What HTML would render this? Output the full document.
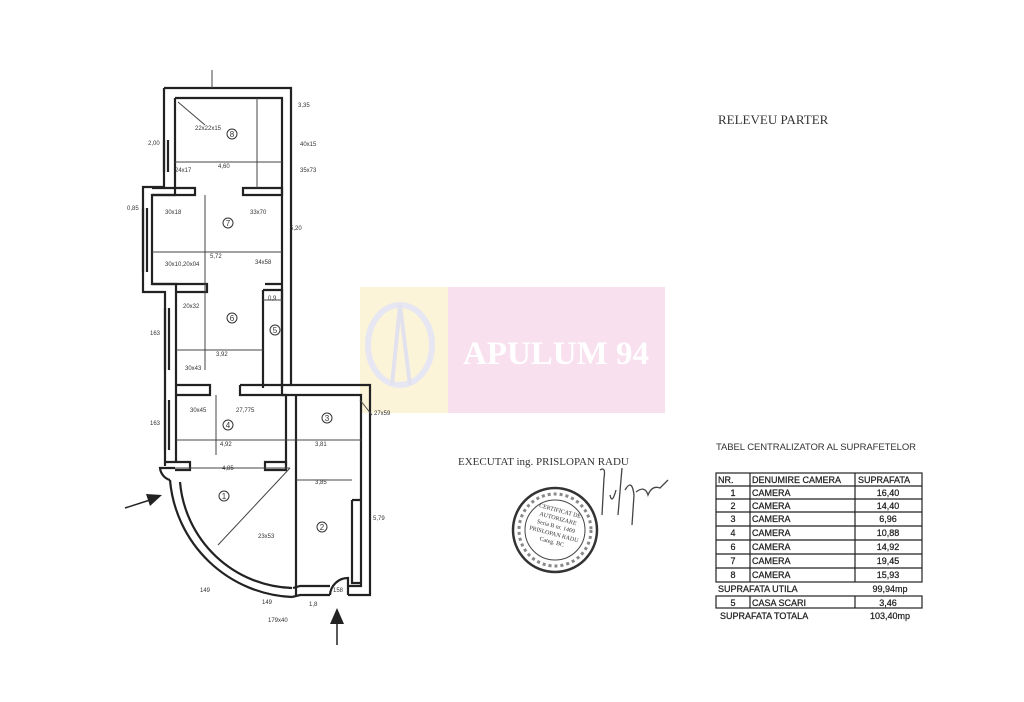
<!DOCTYPE html>
<html><head><meta charset="utf-8"><style>
html,body{margin:0;padding:0;background:#fff;width:1024px;height:702px;overflow:hidden}
svg{display:block}
</style></head><body>
<svg width="1024" height="702" viewBox="0 0 1024 702" xmlns="http://www.w3.org/2000/svg">
<rect width="1024" height="702" fill="#fff"/>
<!-- watermark -->
<rect x="360" y="287" width="88" height="126" fill="#fbf4d8"/>
<rect x="448" y="287" width="217" height="126" fill="#f8e0ef"/>
<ellipse cx="400" cy="345" rx="32" ry="40" fill="none" stroke="#e6e7f2" stroke-width="6"/>
<path d="M400 305 L392 385 M400 305 L410 385" stroke="#e2e2ee" stroke-width="4"/>
<text x="556" y="364" font-family="Liberation Serif,serif" font-weight="bold" font-size="33" fill="#fff" text-anchor="middle">APULUM 94</text>

<g fill="none" stroke="#222" stroke-width="2.2">
<path d="M164 88 H291 V385 H370 V595 H348 M330 595 H300 L292 597"/>
<path d="M164 88 V187 H143 V292 H165 V466"/>
<path d="M175 98 H282 V395 H361 V586 H348 M330 586 H300 L293 588"/>
<path d="M175 98 V195 H152 V284 H176 V462"/>
<path d="M170 480 A128 128 0 0 0 292 597"/>
<path d="M180 482 A116 116 0 0 0 292 588"/>
<path d="M152 188 H195 V195 H152"/>
<path d="M243 188 H282 V195 H243 Z"/>
<path d="M152 284 H207 V292 H176"/>
<path d="M265 284 H282"/>
<path d="M263 290 H282 V388 M263 290 V388"/>
<path d="M176 385 H210 V395 H176"/>
<path d="M240 385 H291 M240 385 V395 H286"/>
<path d="M286 395 V465 M296 395 V595"/>
<path d="M165 462 H190 V470 H175"/>
<path d="M265 462 H286 V470 H265 Z"/>
<path d="M352 500 V583 H361 M352 500 H361"/>
<path d="M330 595 A18 18 0 0 1 348 578 V595"/>
<path d="M170 480 A14 14 0 0 1 160 468 H175"/>
<path d="M164 140 V172 M168 140 V172"/>
<path d="M143 208 V272 M147 208 V272"/>
<path d="M165 308 V370 M169 308 V370"/>
<path d="M165 400 V450 M169 400 V450"/>
</g>
<g stroke="#444" stroke-width="1">
<line x1="175" y1="162" x2="282" y2="162"/>
<line x1="257" y1="98" x2="257" y2="188"/>
<line x1="152" y1="252" x2="282" y2="252"/>
<line x1="205" y1="195" x2="205" y2="370"/>
<line x1="176" y1="350" x2="263" y2="350"/>
<line x1="263" y1="300" x2="282" y2="300"/>
<line x1="176" y1="440" x2="361" y2="440"/>
<line x1="216" y1="395" x2="216" y2="455"/>
<line x1="175" y1="468" x2="290" y2="468"/>
<line x1="296" y1="480" x2="352" y2="480"/>
<line x1="290" y1="468" x2="218" y2="545"/>
<line x1="212" y1="70" x2="212" y2="88"/>
<line x1="178" y1="102" x2="205" y2="125"/>
<line x1="372" y1="415" x2="360" y2="400"/>
</g>
<g font-family="Liberation Sans,sans-serif" font-size="6" fill="#333">
<text x="195" y="130">22x22x15</text><text x="175" y="172">24x17</text>
<text x="218" y="168">4,60</text><text x="298" y="107">3,35</text>
<text x="300" y="146">40x15</text><text x="300" y="172">35x73</text>
<text x="165" y="214">30x18</text><text x="250" y="214">33x70</text>
<text x="210" y="258">5,72</text><text x="165" y="266">30x10,20x04</text>
<text x="255" y="264">34x58</text><text x="290" y="230">5,20</text>
<text x="183" y="308">20x32</text><text x="268" y="300">0,9</text>
<text x="216" y="356">3,92</text><text x="185" y="370">30x43</text>
<text x="190" y="412">30x45</text><text x="236" y="412">27,775</text>
<text x="220" y="446">4,92</text><text x="315" y="446">3,81</text>
<text x="222" y="470">4,85</text><text x="315" y="484">3,85</text>
<text x="258" y="538">23x53</text><text x="374" y="415">27x59</text>
<text x="373" y="520">5,79</text><text x="148" y="145">2,00</text>
<text x="127" y="210">0,85</text><text x="150" y="335">163</text>
<text x="150" y="425">163</text><text x="200" y="592">149</text>
<text x="262" y="604">149</text><text x="309" y="606">1,8</text>
<text x="333" y="592">158</text><text x="268" y="622">179x40</text>
</g>
<g font-family="Liberation Sans,sans-serif" font-size="8" fill="#333" text-anchor="middle">
<circle cx="232" cy="134" r="5" fill="none" stroke="#333"/><text x="232" y="137">8</text>
<circle cx="228" cy="223" r="5" fill="none" stroke="#333"/><text x="228" y="226">7</text>
<circle cx="232" cy="318" r="5" fill="none" stroke="#333"/><text x="232" y="321">6</text>
<circle cx="275" cy="330" r="5" fill="none" stroke="#333"/><text x="275" y="333">5</text>
<circle cx="228" cy="425" r="5" fill="none" stroke="#333"/><text x="228" y="428">4</text>
<circle cx="327" cy="418" r="5" fill="none" stroke="#333"/><text x="327" y="421">3</text>
<circle cx="224" cy="496" r="5" fill="none" stroke="#333"/><text x="224" y="499">1</text>
<circle cx="322" cy="527" r="5" fill="none" stroke="#333"/><text x="322" y="530">2</text>
</g>
<line x1="125" y1="508" x2="150" y2="500" stroke="#222" stroke-width="1.5"/>
<polygon points="162,495 146,494 150,506" fill="#222"/>
<line x1="337" y1="645" x2="337" y2="620" stroke="#222" stroke-width="1.5"/>
<polygon points="337,608 330,624 344,624" fill="#222"/>

<text x="718" y="124" font-family="Liberation Serif,serif" font-size="13" fill="#333">RELEVEU PARTER</text>
<text x="458" y="465" font-family="Liberation Serif,serif" font-size="11" fill="#333">EXECUTAT ing. PRISLOPAN RADU</text>
<text x="716" y="450" font-family="Liberation Sans,sans-serif" font-size="9.5" fill="#333" textLength="200">TABEL CENTRALIZATOR AL SUPRAFETELOR</text>
<circle cx="555" cy="530" r="42" fill="none" stroke="#333" stroke-width="2.5"/>
<circle cx="555" cy="530" r="30" fill="none" stroke="#444" stroke-width="1"/>
<circle cx="555" cy="530" r="36" fill="none" stroke="#888" stroke-width="3" stroke-dasharray="3 3"/>
<g font-family="Liberation Serif,serif" font-size="6" fill="#333" text-anchor="middle" transform="rotate(15 555 530)">
<text x="555" y="512">CERTIFICAT DE</text><text x="555" y="520">AUTORIZARE</text>
<text x="555" y="528">Seria B nr. 1469</text><text x="555" y="536">PRISLOPAN RADU</text><text x="555" y="544">Categ. BC</text>
</g>
<path d="M600 470 Q606 466 604 478 L602 515 M610 495 Q612 505 616 490 M622 468 L618 515 M625 490 Q632 478 634 495 L632 525 M636 492 Q645 485 648 495 Q652 485 660 488 L668 480" fill="none" stroke="#444" stroke-width="1.3"/>

<g fill="none" stroke="#222" stroke-width="1.2">
<rect x="716" y="473" width="206" height="109"/>
<line x1="750" y1="473" x2="750" y2="582"/>
<line x1="855" y1="473" x2="855" y2="582"/>
<line x1="716" y1="486" x2="922" y2="486"/>
<line x1="716" y1="499" x2="922" y2="499"/>
<line x1="716" y1="512" x2="922" y2="512"/>
<line x1="716" y1="526" x2="922" y2="526"/>
<line x1="716" y1="540" x2="922" y2="540"/>
<line x1="716" y1="554" x2="922" y2="554"/>
<line x1="716" y1="568" x2="922" y2="568"/>
<rect x="716" y="596" width="206" height="12"/>
<line x1="750" y1="596" x2="750" y2="608"/>
<line x1="855" y1="596" x2="855" y2="608"/>
</g>
<g font-family="Liberation Sans,sans-serif" font-size="9" fill="#222" stroke="#222" stroke-width="0.25">
<text x="718" y="483">NR.</text><text x="752" y="483">DENUMIRE CAMERA</text><text x="858" y="483">SUPRAFATA</text>
<g text-anchor="middle">
<text x="733" y="496">1</text><text x="733" y="509">2</text><text x="733" y="522">3</text><text x="733" y="536">4</text><text x="733" y="550">6</text><text x="733" y="564">7</text><text x="733" y="578">8</text><text x="733" y="606">5</text>
<text x="888" y="496">16,40</text><text x="888" y="509">14,40</text><text x="888" y="522">6,96</text><text x="888" y="536">10,88</text><text x="888" y="550">14,92</text><text x="888" y="564">19,45</text><text x="888" y="578">15,93</text><text x="888" y="606">3,46</text>
<text x="890" y="592">99,94mp</text><text x="890" y="619">103,40mp</text>
</g>
<text x="752" y="496">CAMERA</text><text x="752" y="509">CAMERA</text><text x="752" y="522">CAMERA</text><text x="752" y="536">CAMERA</text><text x="752" y="550">CAMERA</text><text x="752" y="564">CAMERA</text><text x="752" y="578">CAMERA</text>
<text x="718" y="592">SUPRAFATA UTILA</text>
<text x="752" y="606">CASA SCARI</text>
<text x="720" y="619">SUPRAFATA TOTALA</text>
</g>
</svg>
</body></html>
